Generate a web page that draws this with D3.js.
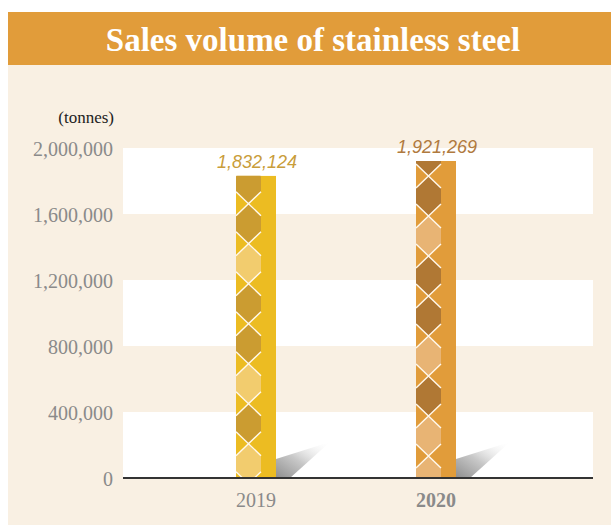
<!DOCTYPE html>
<html>
<head>
<meta charset="utf-8">
<script src="https://cdn.jsdelivr.net/npm/d3@7"></script>
<style>
  html, body { margin: 0; padding: 0; background: #fff; }
  svg { display: block; }
</style>
</head>
<body>
<div id="chart"></div>
<script>
// data
const years = ["2019", "2020"];
const sales = [1832124, 1921269];
const valueLabels = ["1,832,124", "1,921,269"];
const yTicks = [0, 400000, 800000, 1200000, 1600000, 2000000];
// hexagon shades from top of each bar (D = dark, L = light)
const hexSequence = [
  ["D", "D", "L", "D", "D", "L", "D", "L"],
  ["D", "D", "L", "D", "D", "L", "D", "L", "L"]
];

const palette = {
  "2019": { base: "#ecbc22", D: "#cb9c31", L: "#f2cc6e", label: "#c99d3a" },
  "2020": { base: "#e19c3a", D: "#b07834", L: "#e8b474", label: "#b07a3e" }
};

const serif = "'Liberation Serif', 'Times New Roman', serif";
const W = 611, H = 525;
const plot = { left: 123, right: 593, top: 148, bottom: 478 };

const svg = d3.select("#chart").append("svg")
  .attr("width", W).attr("height", H);

const defs = svg.append("defs");
const grad = defs.append("linearGradient")
  .attr("id", "shadowGrad")
  .attr("x1", "0%").attr("y1", "100%").attr("x2", "100%").attr("y2", "0%");
grad.append("stop").attr("offset", "0%").attr("stop-color", "#8f8f8f");
grad.append("stop").attr("offset", "45%").attr("stop-color", "#c8c8c8");
grad.append("stop").attr("offset", "100%").attr("stop-color", "#ffffff").attr("stop-opacity", 0);

// background panel + title band
svg.append("rect").attr("x", 8).attr("y", 12).attr("width", W - 8).attr("height", H - 12)
  .attr("fill", "#f9f0e3");
svg.append("rect").attr("x", 8).attr("y", 12).attr("width", W - 8).attr("height", 53)
  .attr("fill", "#e19c3a");
svg.append("text")
  .attr("x", 313).attr("y", 51)
  .attr("text-anchor", "middle")
  .attr("fill", "#fff")
  .style("font-family", serif)
  .style("font-weight", "bold")
  .style("font-size", "33px")
  .text("Sales volume of stainless steel");

const y = d3.scaleLinear().domain([0, 2000000]).range([plot.bottom, plot.top]);
const x = d3.scaleBand().domain(years).range([166, 526]);

// white stripes
const stripes = yTicks.slice(0, -1).filter((d, i) => i % 2 === 0);
svg.append("g").selectAll("rect")
  .data(stripes)
  .join("rect")
  .attr("x", plot.left)
  .attr("width", plot.right - plot.left)
  .attr("y", d => y(d + 400000))
  .attr("height", d => y(d) - y(d + 400000))
  .attr("fill", "#fff");

// y axis labels
const yAxis = svg.append("g")
  .attr("transform", `translate(${plot.left - 10},0)`)
  .call(d3.axisLeft(y).tickValues(yTicks).tickSize(0).tickPadding(0).tickFormat(d3.format(",")));
yAxis.select(".domain").remove();
yAxis.selectAll("text")
  .attr("fill", "#8a8a8a")
  .attr("dy", "0.35em")
  .style("font-family", serif)
  .style("font-size", "20px");

svg.append("text")
  .attr("x", 114).attr("y", 123)
  .attr("text-anchor", "end")
  .attr("fill", "#222")
  .style("font-family", serif)
  .style("font-size", "17px")
  .text("(tonnes)");

// bars
const barW = 40, patW = 25, diag = 12, period = 40;
const firstCross = [28, 15];

const bars = svg.append("g").selectAll("g.bar")
  .data(years.map((yr, i) => ({ year: yr, value: sales[i], label: valueLabels[i], seq: hexSequence[i], off: firstCross[i], i })))
  .join("g")
  .attr("class", "bar");

bars.each(function(d) {
  const g = d3.select(this);
  const cx = x(d.year) + x.bandwidth() / 2;
  const x0 = cx - barW / 2;
  const top = y(d.value);
  const bot = y(0);
  const col = palette[d.year];

  // shadow
  const bx = x0 + barW;
  g.append("path")
    .attr("d", `M${bx},${bot}L${bx},${bot - 19}L${bx + 54},${bot - 36}L${bx + 14},${bot}Z`)
    .attr("fill", "url(#shadowGrad)");

  const clipId = "clip" + d.i;
  defs.append("clipPath").attr("id", clipId)
    .append("rect").attr("x", x0).attr("y", top).attr("width", barW).attr("height", bot - top);

  const inner = g.append("g").attr("clip-path", `url(#${clipId})`);
  inner.append("rect").attr("x", x0).attr("y", top).attr("width", barW).attr("height", bot - top)
    .attr("fill", col.base);

  const pl = x0, pr = x0 + patW, pc = x0 + patW / 2;
  const crosses = [];
  for (let c = top + d.off - period; c < bot + period; c += period) crosses.push(c);

  // hexagons
  d.seq.forEach((s, k) => {
    const a = crosses[k], b = crosses[k] + period;
    inner.append("path")
      .attr("d", `M${pc},${a}L${pr},${a + diag}L${pr},${b - diag}L${pc},${b}L${pl},${b - diag}L${pl},${a + diag}Z`)
      .attr("fill", col[s]);
  });

  // white crossing lines
  crosses.forEach(c => {
    inner.append("path")
      .attr("d", `M${pl},${c - diag}L${pr},${c + diag}M${pr},${c - diag}L${pl},${c + diag}`)
      .attr("stroke", "#fff8ec")
      .attr("stroke-width", 1.4)
      .attr("fill", "none");
  });

  g.append("text")
    .attr("x", cx + 1).attr("y", top - 8)
    .attr("text-anchor", "middle")
    .attr("fill", col.label)
    .style("font-family", "'Liberation Sans', Arial, sans-serif")
    .style("font-style", "italic")
    .style("font-size", "18px")
    .text(d.label);
});

// baseline
svg.append("line")
  .attr("x1", plot.left).attr("x2", plot.right)
  .attr("y1", y(0)).attr("y2", y(0))
  .attr("stroke", "#333").attr("stroke-width", 2);

// x labels
svg.append("g").selectAll("text")
  .data(years)
  .join("text")
  .attr("x", d => x(d) + x.bandwidth() / 2)
  .attr("y", 507)
  .attr("text-anchor", "middle")
  .attr("fill", "#8a8a8a")
  .style("font-family", serif)
  .style("font-size", "20px")
  .style("font-weight", d => d === "2020" ? "bold" : "normal")
  .text(d => d);
</script>
</body>
</html>
